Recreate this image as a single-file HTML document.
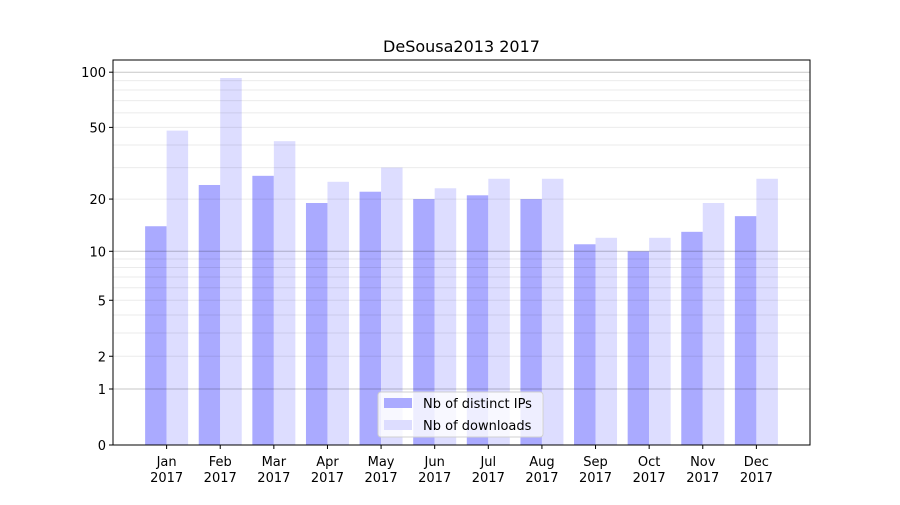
<!DOCTYPE html>
<html><head><meta charset="utf-8"><style>
body{margin:0;background:#fff;font-family:"Liberation Sans","DejaVu Sans",sans-serif;}
svg text{font-family:"DejaVu Sans","Liberation Sans",sans-serif;}
</style></head><body>
<svg id="chart" width="900" height="500" xmlns="http://www.w3.org/2000/svg"></svg>
<script>
const months = ["Jan","Feb","Mar","Apr","May","Jun","Jul","Aug","Sep","Oct","Nov","Dec"];
const ipsValues = [14,24,27,19,22,20,21,20,11,10,13,16];
const downloadValues = [48,93,42,25,30,23,26,26,12,12,19,26];
const tickValues = [0,1,2,5,10,20,50,100];
const tickLabels = ["0","1","2","5","10","20","50","100"];
const minorValues = [2,3,4,5,6,7,8,9,20,30,40,50,60,70,80,90];

const L=113,R=810,T=60,B=445;
const NS="http://www.w3.org/2000/svg";
const svg=document.getElementById('chart');
function y(v){return B-186*Math.log10(v+1);}
function xc(i){return L+(i+1)*(R-L)/13;}
const bw=21.5;
function mk(tag,attrs,parent){const e=document.createElementNS(NS,tag);for(const k in attrs)e.setAttribute(k,attrs[k]);(parent||svg).appendChild(e);return e;}

// bars
months.forEach((m,i)=>{
  const c=xc(i);
  const b1=mk('rect',{x:c-bw,y:y(ipsValues[i]),width:bw,height:B-y(ipsValues[i]),fill:'#aaaaff'});
  
  
  const b2=mk('rect',{x:c,y:y(downloadValues[i]),width:bw,height:B-y(downloadValues[i]),fill:'#ddddff'});
  
  
  mk('line',{x1:c,x2:c,y1:B,y2:B+4,stroke:'#000'});
  const t=mk('text',{x:c,y:B+21,'text-anchor':'middle','font-size':13});
  t.textContent=m;
  
  
  const t2=mk('text',{x:c,y:B+37,'text-anchor':'middle','font-size':13});
  t2.textContent='2017';
  
  
});

// grid (on top of bars, translucent)
minorValues.forEach(v=>{const l=mk('line',{x1:L,x2:R,y1:y(v),y2:y(v),stroke:'#000','stroke-opacity':0.08,'stroke-width':1});

});
[1,10,100].forEach(v=>{const l=mk('line',{x1:L,x2:R,y1:y(v),y2:y(v),stroke:'#000','stroke-opacity':0.22,'stroke-width':1});

});

// y ticks
tickValues.forEach((v,i)=>{
  mk('line',{x1:L-4,x2:L,y1:y(v),y2:y(v),stroke:'#000'});
  const t=mk('text',{x:L-7,y:y(v)+5,'text-anchor':'end','font-size':13});
  t.textContent=tickLabels[i];
  
  
});

const frame=mk('rect',{x:L,y:T,width:R-L,height:B-T,fill:'none',stroke:'#000','stroke-width':1});



const title=mk('text',{x:(L+R)/2,y:52,'text-anchor':'middle','font-size':16});
title.textContent='DeSousa2013 2017';



// legend
const lg=mk('g',{});


mk('rect',{x:378,y:392,width:165,height:45,rx:3,fill:'#fff','fill-opacity':0.8,stroke:'#d0d0d0'},lg);
mk('rect',{x:384,y:398,width:28,height:10,fill:'#aaaaff'},lg);
mk('rect',{x:384,y:420,width:28,height:10,fill:'#ddddff'},lg);
const l1=mk('text',{x:423,y:408,'font-size':13},lg);l1.textContent='Nb of distinct IPs';


const l2=mk('text',{x:423,y:430,'font-size':13},lg);l2.textContent='Nb of downloads';


</script>
</body></html>
